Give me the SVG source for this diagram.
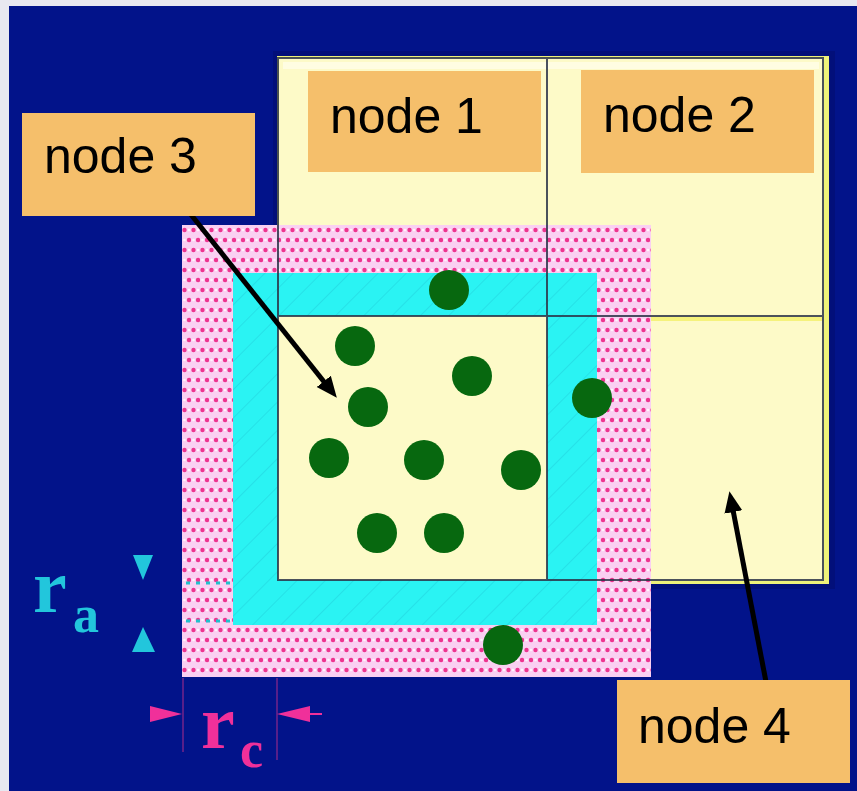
<svg xmlns="http://www.w3.org/2000/svg" width="857" height="791" viewBox="0 0 857 791">
  <style>
    .box { fill: #f5bf6b; }
    .lbl { font-family: "Liberation Sans", Arial, sans-serif; font-size: 50px; fill: #000; }
    .grid { stroke: #2c3448; stroke-width: 2; fill: none; }
    .dot { fill: #07680f; }
    .conn { stroke: #000; stroke-width: 5; fill: none; }
    .sym { font-family: "Liberation Serif", "Times New Roman", serif; font-weight: bold; }
  </style>
  <defs>
    <pattern id="pinkDots" width="9" height="20" patternUnits="userSpaceOnUse" x="182" y="225">
      <rect width="9" height="20" fill="#fad0f2"/>
      <circle cx="2.5" cy="5" r="2.2" fill="#ee3490"/>
      <circle cx="7" cy="15" r="2.2" fill="#ee3490"/>
      <circle cx="7" cy="5" r="1.3" fill="#ffffff" opacity="0.8"/>
      <circle cx="2.5" cy="15" r="1.3" fill="#ffffff" opacity="0.8"/>
    </pattern>
    <pattern id="cyanHatch" width="20" height="20" patternUnits="userSpaceOnUse" patternTransform="rotate(45)">
      <rect width="20" height="20" fill="#2af3f3"/>
      <line x1="0" y1="0" x2="0" y2="20" stroke="#22d2de" stroke-width="1.1"/>
    </pattern>
    <marker id="head" markerUnits="userSpaceOnUse" markerWidth="22" markerHeight="20" viewBox="0 -10 22 20" refX="2" refY="0" orient="auto">
      <path d="M0,-9 L21,0 L0,9 z" fill="#000"/>
    </marker>
  </defs>

  <!-- backdrop -->
  <rect width="857" height="791" fill="#e8e8f0"/>
  <rect x="9" y="6" width="848" height="785" fill="#02138a"/>

  <!-- cell grid -->
  <g id="grid">
    <rect x="273" y="51" width="562" height="538" fill="#010c6a" opacity="0.5"/>
    <rect x="277" y="56" width="552" height="528" fill="#eef27a"/>
    <rect x="279" y="58" width="545" height="523" fill="#fdfac8"/>
    <rect x="283" y="62" width="536" height="7" fill="#fffde2"/>
    <line x1="549" y1="319" x2="822" y2="319" stroke="#f5f27c" stroke-width="4"/>
  </g>

  <!-- cutoff shell and skin around the cell -->
  <g id="regions">
    <rect x="182" y="225" width="469" height="452" fill="url(#pinkDots)"/>
    <rect x="233" y="273" width="364" height="352" fill="url(#cyanHatch)"/>
    <rect x="278" y="316" width="269" height="264" fill="#fdfac8"/>
  </g>

  <!-- grid lines -->
  <g id="gridlines" class="grid" opacity="0.85">
    <line x1="278" y1="57" x2="278" y2="580"/>
    <line x1="277" y1="58" x2="824" y2="58"/>
    <line x1="823" y1="57" x2="823" y2="581"/>
    <line x1="277" y1="580" x2="824" y2="580"/>
    <line x1="547" y1="58" x2="547" y2="580"/>
    <line x1="278" y1="316" x2="823" y2="316"/>
  </g>

  <!-- radius markers -->
  <g id="ra" fill="#22c6dc">
    <line x1="186" y1="583" x2="232" y2="583" stroke="#22c0cc" stroke-width="3" stroke-dasharray="4 6"/>
    <line x1="186" y1="621" x2="232" y2="621" stroke="#22c0cc" stroke-width="3" stroke-dasharray="4 6"/>
    <polygon points="133,555 153,555 143,580"/>
    <polygon points="132,652 155,652 143,627"/>
    <text class="sym" x="33" y="612" font-size="76">r</text>
    <text class="sym" x="73" y="632" font-size="52">a</text>
  </g>
  <g id="rc" fill="#f0309a">
    <line x1="183" y1="678" x2="183" y2="752" stroke="#c0308a" stroke-width="1.5" opacity="0.6"/>
    <line x1="277" y1="678" x2="277" y2="760" stroke="#c0308a" stroke-width="1.5" opacity="0.6"/>
    <polygon points="150,706 150,722 182,714"/>
    <polygon points="310,706 310,722 277,714"/>
    <line x1="308" y1="714" x2="322" y2="714" stroke="#f0309a" stroke-width="2"/>
    <text class="sym" x="201" y="748" font-size="76">r</text>
    <text class="sym" x="240" y="767" font-size="52">c</text>
  </g>

  <!-- particles -->
  <g id="particles">
    <circle class="dot" cx="449" cy="290" r="20"/>
    <circle class="dot" cx="355" cy="346" r="20"/>
    <circle class="dot" cx="472" cy="376" r="20"/>
    <circle class="dot" cx="368" cy="407" r="20"/>
    <circle class="dot" cx="592" cy="398" r="20"/>
    <circle class="dot" cx="329" cy="458" r="20"/>
    <circle class="dot" cx="424" cy="460" r="20"/>
    <circle class="dot" cx="521" cy="470" r="20"/>
    <circle class="dot" cx="377" cy="533" r="20"/>
    <circle class="dot" cx="444" cy="533" r="20"/>
    <circle class="dot" cx="503" cy="645" r="20"/>
  </g>

  <!-- connectors -->
  <g id="connectors">
    <line class="conn" x1="177" y1="197" x2="325" y2="383" marker-end="url(#head)"/>
    <line class="conn" x1="767" y1="687" x2="733" y2="510" marker-end="url(#head)"/>
  </g>

  <!-- nodes -->
  <g id="node1">
    <rect class="box" x="308" y="71" width="233" height="101"/>
    <text class="lbl" x="330" y="133">node 1</text>
  </g>
  <g id="node2">
    <rect class="box" x="581" y="70" width="233" height="103"/>
    <text class="lbl" x="603" y="132">node 2</text>
  </g>
  <g id="node3">
    <rect class="box" x="22" y="113" width="233" height="103"/>
    <text class="lbl" x="44" y="173">node 3</text>
  </g>
  <g id="node4">
    <rect class="box" x="617" y="680" width="233" height="103"/>
    <text class="lbl" x="638" y="743">node 4</text>
  </g>
</svg>
